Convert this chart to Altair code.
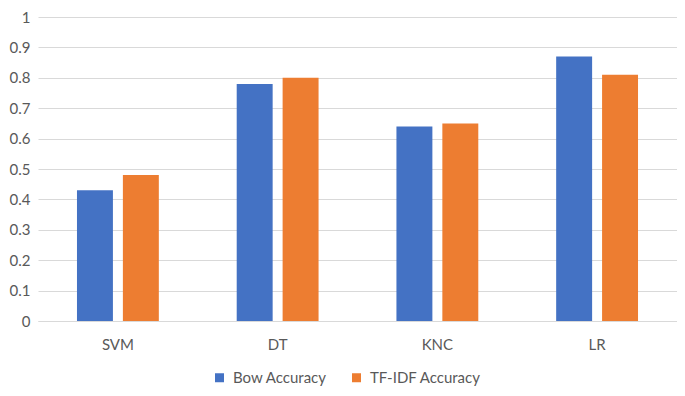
import altair as alt
import pandas as pd

models = ["SVM", "DT", "KNC", "LR"]
bow = [0.43, 0.78, 0.64, 0.87]
tfidf = [0.48, 0.80, 0.65, 0.81]
series = ["Bow Accuracy", "TF-IDF Accuracy"]
colors = ["#4472C4", "#ED7D31"]

rows = []
for m, b, t in zip(models, bow, tfidf):
    rows.append({"model": m, "series": series[0], "value": b})
    rows.append({"model": m, "series": series[1], "value": t})
df = pd.DataFrame(rows)

FONT = "Lato"
TXT = "#595959"
FS = 15

chart = alt.Chart(df).mark_bar().encode(
    x=alt.X("model:N", sort=models, title=None,
            scale=alt.Scale(paddingInner=0.4875, paddingOuter=0.244),
            axis=alt.Axis(labelAngle=0, ticks=False, domainColor="#d9d9d9",
                          labelColor=TXT, labelFontSize=FS, labelFont=FONT,
                          labelPadding=16, grid=False)),
    xOffset=alt.XOffset("series:N", sort=series,
                        scale=alt.Scale(paddingInner=0.217, paddingOuter=0)),
    y=alt.Y("value:Q", title=None,
            scale=alt.Scale(domain=[0, 1]),
            axis=alt.Axis(values=[0, 0.1, 0.2, 0.3, 0.4, 0.5, 0.6, 0.7, 0.8, 0.9, 1],
                          format="~g", domain=False, ticks=False,
                          gridColor="#d9d9d9", labelColor=TXT, labelFontSize=FS,
                          labelFont=FONT, labelPadding=8)),
    color=alt.Color("series:N", sort=series,
                    scale=alt.Scale(domain=series, range=colors),
                    legend=alt.Legend(title=None, orient="none", direction="horizontal",
                                      legendX=174, legendY=353,
                                      symbolType="square", symbolSize=81,
                                      symbolStrokeWidth=0,
                                      labelFontSize=FS, labelFont=FONT,
                                      labelColor=TXT, columnPadding=22,
                                      labelOffset=6)),
).properties(
    width=639, height=304,
    autosize=alt.AutoSizeParams(type="none"),
    padding={"left": 30, "top": 9, "right": 0, "bottom": 67},
    background="white",
).configure_view(stroke=None)

chart.save("out.html", embed_options={"renderer": "svg", "actions": False})
